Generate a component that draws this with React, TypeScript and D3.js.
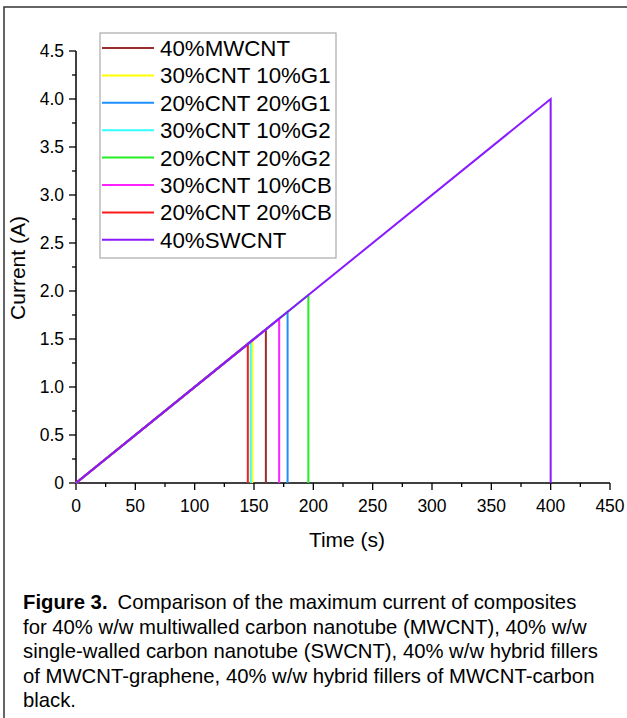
import React, { useRef, useEffect } from 'react';
import * as d3 from 'd3';

// series, in legend order
const names = [
  '40%MWCNT',
  '30%CNT 10%G1',
  '20%CNT 20%G1',
  '30%CNT 10%G2',
  '20%CNT 20%G2',
  '30%CNT 10%CB',
  '20%CNT 20%CB',
  '40%SWCNT',
];
const colors = ['#9b2d2d', '#ffff00', '#1e8fff', '#33ffff', '#22ee22', '#ff22ff', '#ff1a1a', '#8a1aff'];
// time (s) where each sample breaks and the current (A) reached then
const breakTimes = [160, 148.6, 178.3, 147.2, 195.8, 171.2, 144.8, 400];
const peakCurrents = [1.6, 1.486, 1.783, 1.472, 1.958, 1.712, 1.448, 4.0];

const xTicks = [0, 50, 100, 150, 200, 250, 300, 350, 400, 450];
const yTicks = [0, 0.5, 1.0, 1.5, 2.0, 2.5, 3.0, 3.5, 4.0, 4.5];

const captionLines = [
  'for 40% w/w multiwalled carbon nanotube (MWCNT), 40% w/w',
  'single-walled carbon nanotube (SWCNT), 40% w/w hybrid fillers',
  'of MWCNT-graphene, 40% w/w hybrid fillers of MWCNT-carbon',
  'black.',
];

const W = 627;
const H = 718;
const font = '"Liberation Sans", Arial, sans-serif';

const App = () => {
  const svgRef = useRef(null);

  useEffect(() => {
    const svg = d3.select(svgRef.current);
    svg.selectAll('*').remove();

    // outer figure frame
    svg.append('rect')
      .attr('x', 4).attr('y', 7)
      .attr('width', W + 10).attr('height', H + 10)
      .attr('fill', 'white')
      .attr('stroke', '#333').attr('stroke-width', 1.5);

    const x = d3.scaleLinear().domain([0, 450]).range([76, 610]);
    const y = d3.scaleLinear().domain([0, 4.5]).range([483, 51]);

    // minor ticks
    const g = svg.append('g');
    d3.range(0, 451, 25).forEach(t => {
      const major = t % 50 === 0;
      g.append('line')
        .attr('x1', x(t)).attr('x2', x(t))
        .attr('y1', y(0)).attr('y2', y(0) + (major ? 7 : 4))
        .attr('stroke', 'black').attr('stroke-width', 1.3);
    });
    d3.range(0, 4.51, 0.25).forEach(v => {
      const major = Math.round(v * 100) % 50 === 0;
      g.append('line')
        .attr('x1', x(0)).attr('x2', x(0) - (major ? 7 : 4))
        .attr('y1', y(v)).attr('y2', y(v))
        .attr('stroke', 'black').attr('stroke-width', 1.3);
    });

    xTicks.forEach(t => {
      g.append('text')
        .attr('x', x(t)).attr('y', y(0) + 29)
        .attr('text-anchor', 'middle')
        .attr('font-family', font).attr('font-size', '17.5px')
        .text(t);
    });
    yTicks.forEach(v => {
      g.append('text')
        .attr('x', x(0) - 12).attr('y', y(v) + 6)
        .attr('text-anchor', 'end')
        .attr('font-family', font).attr('font-size', '17.5px')
        .text(v === 0 ? '0' : v.toFixed(1));
    });

    // axis lines
    g.append('line')
      .attr('x1', x(0)).attr('x2', x(450))
      .attr('y1', y(0)).attr('y2', y(0))
      .attr('stroke', 'black').attr('stroke-width', 1.5);
    g.append('line')
      .attr('x1', x(0)).attr('x2', x(0))
      .attr('y1', y(0)).attr('y2', y(4.5))
      .attr('stroke', 'black').attr('stroke-width', 1.5);

    // axis titles
    svg.append('text')
      .attr('x', 347).attr('y', 547)
      .attr('text-anchor', 'middle')
      .attr('font-family', font).attr('font-size', '21px')
      .text('Time (s)');
    svg.append('text')
      .attr('transform', 'translate(25,268) rotate(-90)')
      .attr('text-anchor', 'middle')
      .attr('font-family', font).attr('font-size', '21px')
      .text('Current (A)');

    // series
    const line = d3.line().x(d => x(d[0])).y(d => y(d[1]));
    names.forEach((n, i) => {
      const data = [[0, 0], [breakTimes[i], peakCurrents[i]], [breakTimes[i], 0]];
      svg.append('path')
        .attr('d', line(data))
        .attr('fill', 'none')
        .attr('stroke', colors[i])
        .attr('stroke-width', 2);
    });

    // legend
    const lg = svg.append('g');
    lg.append('rect')
      .attr('x', 100).attr('y', 33)
      .attr('width', 236).attr('height', 225)
      .attr('fill', 'white')
      .attr('stroke', '#aaa').attr('stroke-width', 1.2);
    names.forEach((n, i) => {
      const cy = 48 + i * 27.4;
      lg.append('line')
        .attr('x1', 102).attr('x2', 154)
        .attr('y1', cy).attr('y2', cy)
        .attr('stroke', colors[i]).attr('stroke-width', 2);
      lg.append('text')
        .attr('x', 160).attr('y', cy + 8)
        .attr('font-family', font).attr('font-size', '22.3px')
        .text(n);
    });

    // caption
    const cap = svg.append('g')
      .attr('font-family', font).attr('font-size', '20.3px');
    const first = cap.append('text').attr('x', 23).attr('y', 609);
    first.append('tspan').attr('font-weight', 'bold').text('Figure 3.');
    first.append('tspan').attr('dx', 10).text('Comparison of the maximum current of composites');
    captionLines.forEach((t, i) => {
      cap.append('text')
        .attr('x', 23).attr('y', 609 + (i + 1) * 24.6)
        .text(t);
    });
  }, []);

  return (
    <svg ref={svgRef} width={W} height={H}
      style={{ position: 'absolute', left: 0, top: 0, background: 'white' }}></svg>
  );
};

export default App;
